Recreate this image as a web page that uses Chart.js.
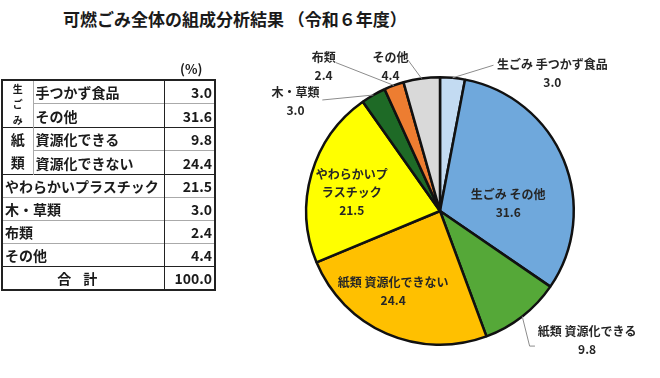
<!DOCTYPE html>
<html>
<head>
<meta charset="utf-8">
<script src="https://cdn.jsdelivr.net/npm/chart.js@4.4.1/dist/chart.umd.min.js"></script>
<style>
  body { margin: 0; background: #fff; }
  #wrap { position: relative; width: 660px; height: 378px; overflow: hidden;
          font-family: "Noto Sans CJK JP", sans-serif; color: #1a1a1a; }
  #title { position: absolute; left: 63px; top: 6px; font-size: 17px; font-weight: bold;
           white-space: nowrap; letter-spacing: 0; }
  #pie { position: absolute; left: 0; top: 0; }
  #unit { position: absolute; left: 180px; top: 59px; font-size: 13px; font-weight: bold; }
  #tbl { position: absolute; left: 1px; top: 79px; width: 213px; border-collapse: collapse;
         table-layout: fixed; font-size: 14px; font-weight: bold; border: 2px solid #222; }
  #tbl td { height: 22px; padding: 0; line-height: 22px; white-space: nowrap; overflow: hidden; }
  #tbl td.lab { padding-left: 2px; }
  #tbl td.val { text-align: right; padding-right: 2px; border-left: 1.5px solid #222; }
  #tbl td.grp { text-align: center; border-right: 1px solid #aaa; }
  #tbl tr.thick td { border-top: 1.5px solid #222; }
  #tbl tr.thin td { border-top: 1px solid #aaa; }
  #tbl td.tot { text-align: center; letter-spacing: 12px; }
</style>
</head>
<body>
<div id="wrap">
  <div id="title">可燃ごみ全体の組成分析結果 （令和６年度）</div>
  <canvas id="pie" width="660" height="378"></canvas>
  <div id="unit">(%)</div>
  <table id="tbl"></table>
</div>
<script>
// data
var groupNames = ['生ごみ', '紙類'];
var tableGroup = [0, 0, 1, 1, -1, -1, -1, -1];
var tableLabels = ['手つかず食品', 'その他', '資源化できる', '資源化できない',
  'やわらかいプラスチック', '木・草類', '布類', 'その他'];
var values = [3.0, 31.6, 9.8, 24.4, 21.5, 3.0, 2.4, 4.4];
var totalLabel = '合計';
var totalValue = 100.0;
var sliceLabels = [['生ごみ 手つかず食品'], ['生ごみ その他'], ['紙類 資源化できる'],
  ['紙類 資源化できない'], ['やわらかいプ', 'ラスチック'], ['木・草類'], ['布類'], ['その他']];

var colors = ['#c3dbf2', '#6fa8dc', '#55a838', '#ffc000', '#ffff00', '#1e6a26', '#ed7d31', '#d9d9d9'];

// label placement, in units of the pie radius from its centre
var labelPlace = [
  { at: [0.84, -1.03], leader: [[0.40, -1.09]] },
  { at: [0.51, -0.06] },
  { at: [1.10, 0.97], leader: [[0.67, 1.01], [0.71, 1.01]] },
  { at: [-0.35, 0.60] },
  { at: [-0.66, -0.14] },
  { at: [-1.08, -0.82], leader: [[-0.88, -0.83]] },
  { at: [-0.87, -1.08], leader: [[-0.78, -1.11]] },
  { at: [-0.37, -1.08], leader: [[-0.24, -1.13]] }
];

// table
var tbl = document.getElementById('tbl');
var html = '<colgroup><col style="width:31px"><col style="width:131px"><col style="width:51px"></colgroup>';
for (var i = 0; i < tableLabels.length; i++) {
  var g = tableGroup[i];
  var firstInGroup = g < 0 || i === 0 || tableGroup[i - 1] !== g;
  var cls = (i === 0) ? '' : ((firstInGroup && (g >= 0 || tableGroup[i - 1] >= 0)) ? 'thick' : 'thin');
  html += '<tr class="' + cls + '">';
  if (g >= 0 && firstInGroup) {
    var span = tableGroup.filter(function(x) { return x === g; }).length;
    var chars = groupNames[g].split('');
    var fs = chars.length > span ? 10 : 14;
    var lh = (span * 23) / chars.length;
    html += '<td class="grp" rowspan="' + span + '" style="font-size:' + fs + 'px;line-height:' + lh + 'px">' +
      chars.join('<br>') + '</td>';
  }
  if (g >= 0) {
    html += '<td class="lab">' + tableLabels[i] + '</td>';
  } else {
    html += '<td class="lab" colspan="2">' + tableLabels[i] + '</td>';
  }
  html += '<td class="val">' + values[i].toFixed(1) + '</td></tr>';
}
html += '<tr class="thick"><td class="tot" colspan="2">' + totalLabel + '</td><td class="val">' +
  totalValue.toFixed(1) + '</td></tr>';
tbl.innerHTML = html;

// slice labels with leader lines
var labelPlugin = {
  id: 'sliceLabels',
  afterDatasetsDraw: function(chart) {
    var ctx = chart.ctx;
    var meta = chart.getDatasetMeta(0);
    ctx.save();
    ctx.font = 'bold 12px "Noto Sans CJK JP", sans-serif';
    ctx.textAlign = 'center';
    ctx.textBaseline = 'middle';
    meta.data.forEach(function(arc, i) {
      var p = arc.getProps(['x', 'y', 'outerRadius', 'startAngle', 'endAngle'], true);
      var r = p.outerRadius;
      var place = labelPlace[i];
      if (place.leader) {
        var mid = (p.startAngle + p.endAngle) / 2;
        ctx.strokeStyle = '#8c8c8c';
        ctx.lineWidth = 1;
        ctx.beginPath();
        ctx.moveTo(p.x + r * Math.cos(mid), p.y + r * Math.sin(mid));
        place.leader.forEach(function(pt) {
          ctx.lineTo(p.x + pt[0] * r, p.y + pt[1] * r);
        });
        ctx.stroke();
      }
      var lines = sliceLabels[i].concat([values[i].toFixed(1)]);
      var cx = p.x + place.at[0] * r;
      var cy = p.y + place.at[1] * r;
      var lh = 18;
      ctx.fillStyle = '#262626';
      lines.forEach(function(t, k) {
        ctx.fillText(t, cx, cy + (k - (lines.length - 1) / 2) * lh);
      });
    });
    ctx.restore();
  }
};

new Chart(document.getElementById('pie'), {
  type: 'pie',
  data: {
    labels: sliceLabels.map(function(l) { return l.join(''); }),
    datasets: [{
      data: values,
      backgroundColor: colors,
      borderColor: '#111',
      borderWidth: 2.5
    }]
  },
  options: {
    responsive: false,
    animation: false,
    layout: { padding: { left: 305, right: 85, top: 76, bottom: 32 } },
    plugins: {
      legend: { display: false },
      tooltip: { enabled: false }
    }
  },
  plugins: [labelPlugin]
});
</script>
</body>
</html>
